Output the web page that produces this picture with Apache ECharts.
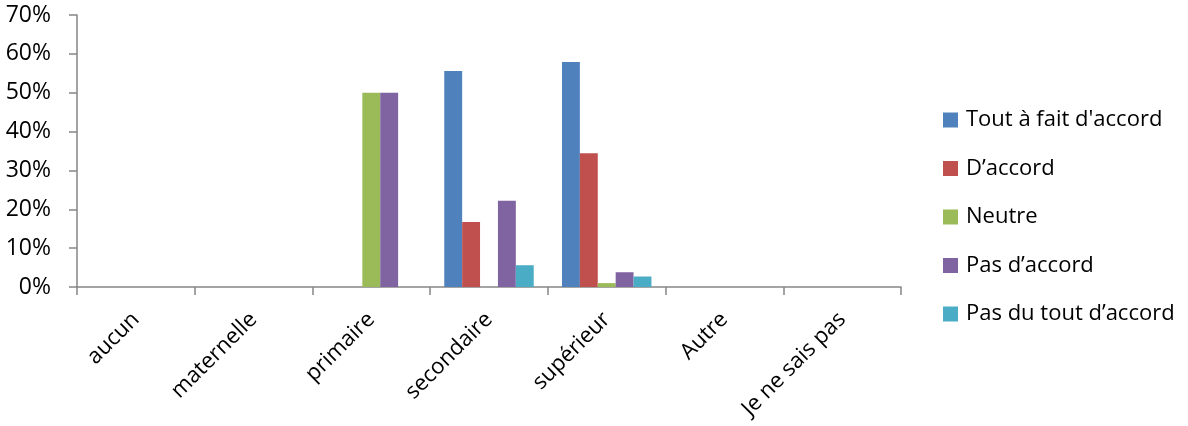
<!DOCTYPE html>
<html>
<head>
<meta charset="utf-8">
<script src="https://cdn.jsdelivr.net/npm/echarts@6/dist/echarts.min.js"></script>
<style>
html,body{margin:0;padding:0;background:#fff;}
#chart{width:1188px;height:426px;}
</style>
</head>
<body>
<div id="chart"></div>
<script>
const categories = ['aucun', 'maternelle', 'primaire', 'secondaire', 'supérieur', 'Autre', 'Je ne sais pas'];
const seriesNames = ["Tout à fait d'accord", 'D’accord', 'Neutre', 'Pas d’accord', 'Pas du tout d’accord'];
const toutAFait   = [0, 0, 0, 55.6, 57.9, 0, 0];
const dAccord     = [0, 0, 0, 16.7, 34.4, 0, 0];
const neutre      = [0, 0, 50, 0, 1.0, 0, 0];
const pasDAccord  = [0, 0, 50, 22.2, 3.8, 0, 0];
const pasDuTout   = [0, 0, 0, 5.6, 2.7, 0, 0];
const yTicks = [0, 10, 20, 30, 40, 50, 60, 70];

const colors = ['#4F81BD', '#C0504D', '#9BBB59', '#8064A2', '#4BACC6'];
const values = [toutAFait, dAccord, neutre, pasDAccord, pasDuTout];
const font = '"Open Sans", "Noto Sans", sans-serif';

const chart = echarts.init(document.getElementById('chart'));
chart.setOption({
  animation: false,
  color: colors,
  grid: { left: 77, right: 287, top: 15, bottom: 139, containLabel: false },
  legend: {
    orient: 'vertical',
    left: 938,
    top: 104,
    itemWidth: 15,
    itemHeight: 15,
    itemGap: 26.5,
    icon: 'rect',
    textStyle: { fontFamily: font, fontSize: 22, lineHeight: 20, color: '#000', padding: [0, 0, 0, 3] },
    data: seriesNames
  },
  xAxis: {
    type: 'category',
    data: categories,
    axisLine: { lineStyle: { color: '#868686', width: 1.5 } },
    axisTick: { show: true, length: 8, lineStyle: { color: '#868686', width: 1.5 } },
    axisLabel: { rotate: 45, fontFamily: font, fontSize: 22, color: '#000', margin: 29, interval: 0 },
    splitLine: { show: false }
  },
  yAxis: {
    type: 'value',
    min: yTicks[0],
    max: yTicks[yTicks.length - 1],
    interval: 10,
    axisLine: { show: true, lineStyle: { color: '#868686', width: 1.5 } },
    axisTick: { show: true, length: 8, lineStyle: { color: '#868686', width: 1.5 } },
    axisLabel: { formatter: '{value}%', fontFamily: font, fontSize: 23, color: '#000', margin: 26 },
    splitLine: { show: false }
  },
  series: seriesNames.map((name, i) => ({
    name: name,
    type: 'bar',
    data: values[i],
    barGap: '0%',
    barCategoryGap: '24%',
    itemStyle: { color: colors[i] }
  }))
});
</script>
</body>
</html>
